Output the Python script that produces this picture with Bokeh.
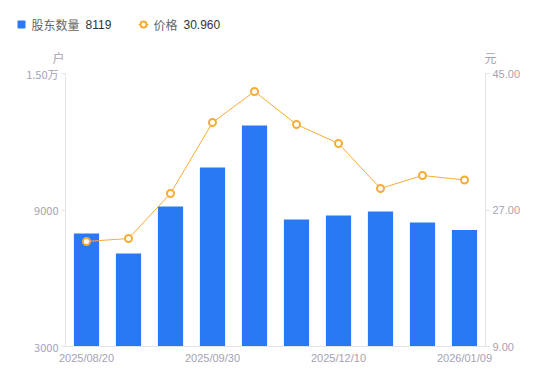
from bokeh.plotting import figure
from bokeh.layouts import column
from bokeh.models import (Range1d, LinearAxis, FixedTicker, NumeralTickFormatter,
                          ColumnDataSource)
from bokeh.core.properties import value
from bokeh.embed import file_html
from bokeh.resources import INLINE

dates = ["2025/08/20", "2025/08/31", "2025/09/19", "2025/09/30", "2025/10/31",
         "2025/11/20", "2025/12/10", "2025/12/20", "2025/12/31", "2026/01/09"]
holders = [7970, 7090, 9150, 10870, 12710, 8580, 8760, 8930, 8450, 8119]
price = [22.85, 23.24, 29.18, 38.54, 42.63, 38.28, 35.77, 29.84, 31.55, 30.96]
left_ticks = [3000, 9000, 15000]
left_tick_labels = ["3000", "9000", "1.50万"]
right_ticks = [9, 27, 45]
shown_dates = dates[::3]
series_names = ["股东数量", "价格"]
units = ["户", "元"]

BLUE = "#2979F5"
ORANGE = "#F7AC35"
AXIS = "#e3e3ea"
TICK_TXT = "#a3a3b3"
CJK = "Noto Sans CJK SC"
W = 540
HEAD = 65

# ---------- header (legend + unit labels) ----------
h = figure(width=W, height=HEAD, output_backend="svg", toolbar_location=None,
           x_range=Range1d(0, W), y_range=Range1d(HEAD, 0),
           min_border=0, min_border_left=0, min_border_right=0,
           min_border_top=0, min_border_bottom=0, frame_align=False)
h.axis.visible = False
h.grid.visible = False
h.outline_line_color = None
h.border_fill_color = "white"

h.rect(x=[21], y=[24], width=8, height=8, width_units="screen", height_units="screen",
       fill_color=BLUE, line_color=None, border_radius=1)
h.line(x=[138, 148], y=[24, 24], line_color=ORANGE, line_width=1)
h.scatter(x=[143], y=[24], size=6, fill_color="white", line_color=ORANGE, line_width=2)
h.text(x=[31, 153], y=[24, 24], text=series_names, text_font=value(CJK),
       text_font_size="12px", text_color="#666666", text_baseline="middle")
h.text(x=[85, 183], y=[24, 24], text=[str(holders[-1]), f"{price[-1]:.3f}"],
       text_font=value("Liberation Sans"), text_font_size="12px", text_color="#333333",
       text_baseline="middle")
h.text(x=[58, 490], y=[57, 57], text=units, text_font=value(CJK),
       text_font_size="12px", text_color=TICK_TXT, text_baseline="middle",
       text_align="center")

# ---------- main chart ----------
x = list(range(len(dates)))
src = ColumnDataSource(dict(x=x, holders=holders, price=price, date=dates))

p = figure(width=W, height=8 + 273 + 27, output_backend="svg", toolbar_location=None,
           x_range=Range1d(-0.5, len(dates) - 0.5), y_range=Range1d(3000, 15000),
           min_border_left=65, min_border_right=W - 485, min_border_top=8,
           min_border_bottom=27, frame_align=False)
p.extra_y_ranges = {"price": Range1d(9, 45)}
p.outline_line_color = None
p.xgrid.visible = False
p.ygrid.visible = False
p.background_fill_color = "white"
p.border_fill_color = "white"

p.vbar(x="x", top="holders", bottom=3000, width=0.6, source=src,
       fill_color=BLUE, line_color=None)
p.line(x="x", y="price", source=src, y_range_name="price",
       line_color=ORANGE, line_width=1)
p.scatter(x="x", y="price", source=src, y_range_name="price", size=7,
          fill_color="white", line_color=ORANGE, line_width=2)

xa = p.xaxis[0]
xa.ticker = FixedTicker(ticks=x[::3])
xa.major_label_overrides = {i: d for i, d in zip(x[::3], shown_dates)}
xa.axis_line_color = AXIS
xa.major_tick_line_color = None
xa.major_tick_in = 0
xa.major_tick_out = 0
xa.minor_tick_line_color = None
xa.major_label_text_color = TICK_TXT
xa.major_label_text_font = "Liberation Sans"
xa.major_label_text_font_size = "11px"
xa.major_label_standoff = 5

ya = p.yaxis[0]
ya.ticker = FixedTicker(ticks=left_ticks)
ya.major_label_overrides = dict(zip(left_ticks, left_tick_labels))
ya.axis_line_color = AXIS
ya.major_tick_line_color = AXIS
ya.major_tick_in = 0
ya.major_tick_out = 4
ya.minor_tick_line_color = None
ya.major_label_text_color = TICK_TXT
ya.major_label_text_font = CJK
ya.major_label_text_font_size = "11px"
ya.major_label_standoff = 3

ra = LinearAxis(y_range_name="price", ticker=FixedTicker(ticks=right_ticks),
                formatter=NumeralTickFormatter(format="0.00"))
ra.axis_line_color = AXIS
ra.major_tick_line_color = AXIS
ra.major_tick_in = 0
ra.major_tick_out = 4
ra.minor_tick_line_color = None
ra.major_label_text_color = TICK_TXT
ra.major_label_text_font = "Liberation Sans"
ra.major_label_text_font_size = "11px"
ra.major_label_standoff = 3
p.add_layout(ra, "right")

layout = column(h, p, spacing=0)
open("out.html", "w").write(file_html(layout, INLINE))
